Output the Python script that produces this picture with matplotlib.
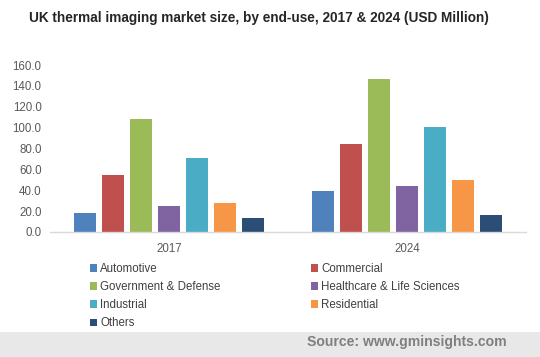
import matplotlib
matplotlib.use("Agg")
import matplotlib.pyplot as plt
from matplotlib.patches import Patch, Rectangle
import numpy as np

plt.rcParams['font.family'] = ['Liberation Sans', 'DejaVu Sans']

years = ["2017", "2024"]
segments = ["Automotive", "Commercial", "Government & Defense",
            "Healthcare & Life Sciences", "Industrial", "Residential", "Others"]
colors = ["#4F81BD", "#C0504D", "#9BBB59", "#8064A2", "#4BACC6", "#F79646", "#2C4D75"]
values_2017 = [18.2, 54.5, 108.1, 24.9, 70.8, 27.8, 13.4]
values_2024 = [39.2, 84.2, 146.4, 44.0, 100.5, 49.8, 16.3]
yticks = [0, 20, 40, 60, 80, 100, 120, 140, 160]

W, H = 540, 357
fig = plt.figure(figsize=(W / 100, H / 100), dpi=100)
ax = fig.add_axes([50 / W, (H - 232) / H, (526 - 50) / W, (232 - 65) / H])

x = np.arange(len(years))
step = 28 / 238
width = 22 / 238
n = len(segments)
for i, seg in enumerate(segments):
    vals = [values_2017[i], values_2024[i]]
    ax.bar(x + (i - (n - 1) / 2) * step, vals, width=width, color=colors[i], label=seg)

ax.set_xlim(-0.5, 1.5)
ax.set_ylim(0, 160)
ax.set_yticks(yticks)
ax.set_yticklabels([f"{v:.1f}" for v in yticks], color="#595959", fontsize=8.3)
ax.set_xticks(x)
ax.set_xticklabels(years, color="#595959", fontsize=8.3)
ax.tick_params(axis='both', length=0)
ax.tick_params(axis='x', pad=8)
ax.tick_params(axis='y', pad=6)
for s in ["top", "right", "left"]:
    ax.spines[s].set_visible(False)
ax.spines["bottom"].set_color("#d9d9d9")
ax.spines["bottom"].set_linewidth(1.0)

fig.text(259 / W, 1 - 18 / H,
         "UK thermal imaging market size, by end-use, 2017 & 2024 (USD Million)",
         ha="center", va="center", fontsize=9.8, fontweight="bold", color="#262626")

order = [0, 2, 4, 6, 1, 3, 5]
handles = [Patch(facecolor=colors[i], edgecolor="none") for i in order]
labels = [segments[i] for i in order]
leg = fig.legend(handles, labels, ncol=2, loc="upper left",
                 bbox_to_anchor=(90 / W, 1 - 263 / H), frameon=False,
                 fontsize=8.3, handlelength=0.6, handleheight=0.6,
                 handletextpad=0.3, columnspacing=7.8, labelspacing=0.53,
                 borderaxespad=0, borderpad=0)
for t in leg.get_texts():
    t.set_color("#404040")

fig.patches.append(Rectangle((0, 0), 1, (H - 332) / H, transform=fig.transFigure,
                             facecolor="#e8e8e8", edgecolor="none", zorder=0))
fig.text(507 / W, (H - 342) / H, "Source: www.gminsights.com", ha="right", va="center",
         fontsize=10.05, fontweight="bold", color="#7f7f7f")

fig.savefig("out.png", dpi=100)
